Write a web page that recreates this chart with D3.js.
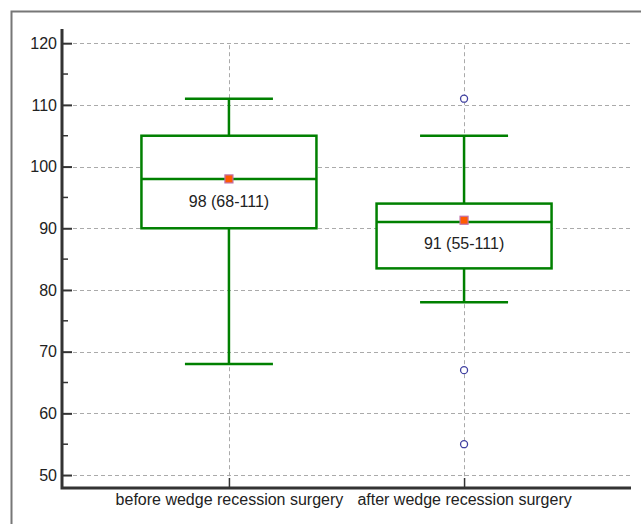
<!DOCTYPE html>
<meta charset="utf-8">
<head>
  <style>
    body { margin: 0; background: #fff; }
    text { font-family: "Liberation Sans", Arial, sans-serif; font-size: 16px; fill: #222; }
    .grid line { stroke: #aaa; stroke-width: 1; stroke-dasharray: 4,3; }
  </style>
  <script src="https://cdn.jsdelivr.net/npm/d3@7"></script>
</head>
<body>
  <div id="viz"></div>
</body>
<script>
var groups = ["before wedge recession surgery", "after wedge recession surgery"];
var q1 = [90, 83.5];
var median = [98, 91];
var q3 = [105, 94];
var whiskerLow = [68, 78];
var whiskerHigh = [111, 105];
var means = [98, 91.3];
var labels = ["98 (68-111)", "91 (55-111)"];
var outliers = [[], [111, 67, 55]];
var yTicks = [50, 60, 70, 80, 90, 100, 110, 120];

var width = 641, height = 524;
var plotLeft = 62, plotRight = 631, plotTop = 29, plotBottom = 488;

var svg = d3.select("#viz").append("svg")
  .attr("width", width)
  .attr("height", height);

// outer frame
svg.append("path")
  .attr("d", "M11.5," + height + "V11.5H" + width)
  .attr("fill", "none")
  .attr("stroke", "#777")
  .attr("stroke-width", 2);

var y = d3.scaleLinear().domain([47.9, 122.3]).range([plotBottom, plotTop]);
var x = d3.scalePoint().domain(groups).range([plotLeft, plotRight]).padding(0.71);

var boxW = 175, capW = 88;

// grid
var grid = svg.append("g").attr("class", "grid");
grid.selectAll(".h").data(yTicks).enter().append("line")
  .attr("x1", plotLeft + 11).attr("x2", plotRight - 1)
  .attr("y1", function(d) { return Math.round(y(d)) + 0.5; })
  .attr("y2", function(d) { return Math.round(y(d)) + 0.5; });
grid.selectAll(".v").data(groups).enter().append("line")
  .attr("x1", function(d) { return Math.round(x(d)) + 0.5; })
  .attr("x2", function(d) { return Math.round(x(d)) + 0.5; })
  .attr("y1", y(120) + 2).attr("y2", plotBottom - 10);

// boxes
var box = svg.selectAll(".box").data(groups).enter().append("g");

box.append("line")
  .attr("x1", function(d) { return x(d); }).attr("x2", function(d) { return x(d); })
  .attr("y1", function(d, i) { return y(whiskerHigh[i]); })
  .attr("y2", function(d, i) { return y(whiskerLow[i]); })
  .attr("stroke", "#008000").attr("stroke-width", 2.5);

box.selectAll(".cap")
  .data(function(d, i) { return [whiskerLow[i], whiskerHigh[i]].map(function(v) { return {g: d, v: v}; }); })
  .enter().append("line")
  .attr("x1", function(d) { return x(d.g) - capW / 2; })
  .attr("x2", function(d) { return x(d.g) + capW / 2; })
  .attr("y1", function(d) { return y(d.v); })
  .attr("y2", function(d) { return y(d.v); })
  .attr("stroke", "#008000").attr("stroke-width", 2.5);

box.append("rect")
  .attr("x", function(d) { return x(d) - boxW / 2; })
  .attr("width", boxW)
  .attr("y", function(d, i) { return y(q3[i]); })
  .attr("height", function(d, i) { return y(q1[i]) - y(q3[i]); })
  .attr("fill", "#fff")
  .attr("stroke", "#008000").attr("stroke-width", 2.5);

box.append("line")
  .attr("x1", function(d) { return x(d) - boxW / 2; })
  .attr("x2", function(d) { return x(d) + boxW / 2; })
  .attr("y1", function(d, i) { return y(median[i]); })
  .attr("y2", function(d, i) { return y(median[i]); })
  .attr("stroke", "#008000").attr("stroke-width", 2.5);

box.append("text")
  .attr("x", function(d) { return x(d); })
  .attr("y", function(d, i) { return (y(median[i]) + y(q1[i])) / 2 - 2; })
  .attr("dy", "0.35em")
  .attr("text-anchor", "middle")
  .text(function(d, i) { return labels[i]; });

box.append("rect")
  .attr("x", function(d) { return x(d) - 4; })
  .attr("y", function(d, i) { return y(means[i]) - 4; })
  .attr("width", 8).attr("height", 8)
  .attr("fill", "#ff5a00")
  .attr("stroke", "#c070a8").attr("stroke-width", 1.2);

box.selectAll(".out")
  .data(function(d, i) { return outliers[i].map(function(v) { return {g: d, v: v}; }); })
  .enter().append("circle")
  .attr("cx", function(d) { return x(d.g); })
  .attr("cy", function(d) { return y(d.v); })
  .attr("r", 3.5)
  .attr("fill", "#fff")
  .attr("stroke", "#4040a0").attr("stroke-width", 1.3);

// y axis
var yAxis = d3.axisLeft(y).tickValues(yTicks).tickSize(-10).tickPadding(5);
var gy = svg.append("g").attr("transform", "translate(" + plotLeft + ",0)").call(yAxis);
gy.select(".domain").remove();
gy.selectAll(".tick line").attr("stroke", "#333").attr("stroke-width", 2);
gy.selectAll(".tick text").attr("font-size", null).attr("font-family", null);

var minor = d3.range(55, 120, 10);
svg.selectAll(".minor").data(minor).enter().append("line")
  .attr("x1", plotLeft).attr("x2", plotLeft + 6)
  .attr("y1", function(d) { return y(d); })
  .attr("y2", function(d) { return y(d); })
  .attr("stroke", "#333").attr("stroke-width", 1.5);

// x axis
var xAxis = d3.axisBottom(x).tickSize(-10).tickPadding(6);
var gx = svg.append("g").attr("transform", "translate(0," + plotBottom + ")").call(xAxis);
gx.select(".domain").remove();
gx.selectAll(".tick line").attr("stroke", "#333").attr("stroke-width", 1.5);
gx.selectAll(".tick text").attr("font-size", null).attr("font-family", null);

// axis lines
svg.append("path")
  .attr("d", "M" + plotLeft + "," + plotTop + "V" + plotBottom + "H" + plotRight)
  .attr("fill", "none")
  .attr("stroke", "#333")
  .attr("stroke-width", 3);
</script>
